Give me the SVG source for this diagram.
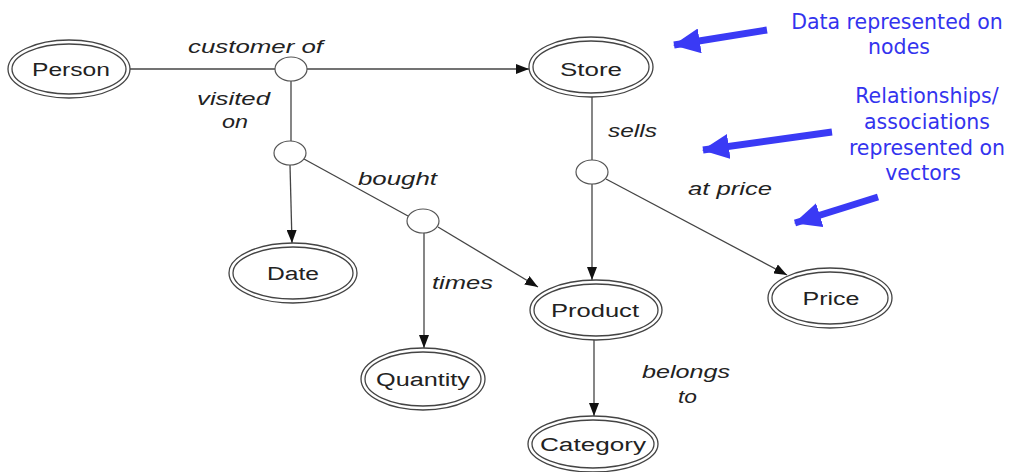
<svg xmlns="http://www.w3.org/2000/svg" width="1011" height="472" viewBox="0 0 1011 472">
<style>
.o{fill:#fff;stroke:#444;stroke-width:1.3}
.i{fill:none;stroke:#444;stroke-width:1.3}
.j{fill:#fff;stroke:#555;stroke-width:1.2}
.nt{font-family:"Liberation Sans",Arial,sans-serif;font-size:18px;fill:#222;text-anchor:middle}
.lb{font-family:"Liberation Sans",Arial,sans-serif;font-size:19px;font-style:italic;fill:#222}
.c line{stroke:#444;stroke-width:1.3}
.bt{font-family:"DejaVu Sans",Verdana,sans-serif;font-size:20.5px;fill:#3333ee;text-anchor:middle}
.ba{stroke:#3a3af5;stroke-width:7;fill:none}
</style>
<defs>
<marker id="ah" markerWidth="13" markerHeight="10" refX="13" refY="5" orient="auto" markerUnits="userSpaceOnUse">
<path d="M0,0 L13,5 L0,10 Z" fill="#111"/>
</marker>
<marker id="bh" markerWidth="27" markerHeight="25" refX="26" refY="12.5" orient="auto" markerUnits="userSpaceOnUse">
<path d="M0,0 L27,12.5 L0,25 Z" fill="#3a3af5"/>
</marker>
</defs>
<rect width="1011" height="472" fill="#fff"/>
<g class="c" id="connectors">
<line x1="130" y1="69" x2="275" y2="69"/>
<line x1="307" y1="69" x2="529" y2="69" marker-end="url(#ah)"/>
<line x1="291" y1="81" x2="291" y2="141"/>
<line x1="290" y1="165" x2="292" y2="243" marker-end="url(#ah)"/>
<line x1="304" y1="159" x2="408" y2="216"/>
<line x1="438" y1="227" x2="538" y2="287" marker-end="url(#ah)"/>
<line x1="424" y1="232" x2="424" y2="348" marker-end="url(#ah)"/>
<line x1="592" y1="97" x2="592" y2="160"/>
<line x1="592" y1="184" x2="592" y2="280" marker-end="url(#ah)"/>
<line x1="606" y1="179" x2="787" y2="275" marker-end="url(#ah)"/>
<line x1="594" y1="340" x2="594" y2="416" marker-end="url(#ah)"/>
</g>
<g id="labels">
<text class="lb" x="188" y="53" textLength="135" lengthAdjust="spacingAndGlyphs">customer of</text>
<text class="lb" x="197" y="105" textLength="73" lengthAdjust="spacingAndGlyphs">visited</text>
<text class="lb" x="222" y="128" textLength="26" lengthAdjust="spacingAndGlyphs">on</text>
<text class="lb" x="358" y="185" textLength="79" lengthAdjust="spacingAndGlyphs">bought</text>
<text class="lb" x="432" y="289" textLength="61" lengthAdjust="spacingAndGlyphs">times</text>
<text class="lb" x="608" y="137" textLength="49" lengthAdjust="spacingAndGlyphs">sells</text>
<text class="lb" x="688" y="195" textLength="84" lengthAdjust="spacingAndGlyphs">at price</text>
<text class="lb" x="642" y="378" textLength="88" lengthAdjust="spacingAndGlyphs">belongs</text>
<text class="lb" x="678" y="403" textLength="19" lengthAdjust="spacingAndGlyphs">to</text>
</g>
<g id="j1"><ellipse class="j" cx="291" cy="69" rx="16" ry="12"/></g>
<g id="j2"><ellipse class="j" cx="290" cy="153" rx="16" ry="12"/></g>
<g id="j3"><ellipse class="j" cx="423" cy="221" rx="16" ry="12"/></g>
<g id="j4"><ellipse class="j" cx="592" cy="172" rx="16" ry="12"/></g>
<g id="person"><ellipse class="o" cx="69" cy="69" rx="61" ry="29"/><ellipse class="i" cx="69" cy="69" rx="57" ry="25"/><text class="nt" x="71" y="76" textLength="78" lengthAdjust="spacingAndGlyphs">Person</text></g>
<g id="store"><ellipse class="o" cx="591" cy="67" rx="62" ry="30"/><ellipse class="i" cx="591" cy="67" rx="58" ry="26"/><text class="nt" x="591" y="76" textLength="62" lengthAdjust="spacingAndGlyphs">Store</text></g>
<g id="date"><ellipse class="o" cx="293" cy="273" rx="64" ry="30"/><ellipse class="i" cx="293" cy="273" rx="60" ry="26"/><text class="nt" x="293" y="280" textLength="52" lengthAdjust="spacingAndGlyphs">Date</text></g>
<g id="product"><ellipse class="o" cx="596" cy="310" rx="66" ry="30"/><ellipse class="i" cx="596" cy="310" rx="62" ry="26"/><text class="nt" x="595" y="317" textLength="88" lengthAdjust="spacingAndGlyphs">Product</text></g>
<g id="quantity"><ellipse class="o" cx="423" cy="379" rx="62" ry="31"/><ellipse class="i" cx="423" cy="379" rx="58" ry="27"/><text class="nt" x="423" y="386" textLength="94" lengthAdjust="spacingAndGlyphs">Quantity</text></g>
<g id="price"><ellipse class="o" cx="830" cy="298" rx="62" ry="30"/><ellipse class="i" cx="830" cy="298" rx="58" ry="26"/><text class="nt" x="831" y="305" textLength="57" lengthAdjust="spacingAndGlyphs">Price</text></g>
<g id="category"><ellipse class="o" cx="593" cy="444" rx="65" ry="28"/><ellipse class="i" cx="593" cy="444" rx="61" ry="24"/><text class="nt" x="593" y="451" textLength="106" lengthAdjust="spacingAndGlyphs">Category</text></g>
<g id="notes">
<line class="ba" x1="767" y1="30" x2="674" y2="45" marker-end="url(#bh)"/>
<line class="ba" x1="832" y1="132" x2="703" y2="150" marker-end="url(#bh)"/>
<line class="ba" x1="878" y1="197" x2="795" y2="223" marker-end="url(#bh)"/>
<text class="bt" x="897" y="29">Data represented on</text>
<text class="bt" x="899" y="54">nodes</text>
<text class="bt" x="927" y="103">Relationships/</text>
<text class="bt" x="927" y="129">associations</text>
<text class="bt" x="927" y="155">represented on</text>
<text class="bt" x="923" y="180">vectors</text>
</g>
</svg>
